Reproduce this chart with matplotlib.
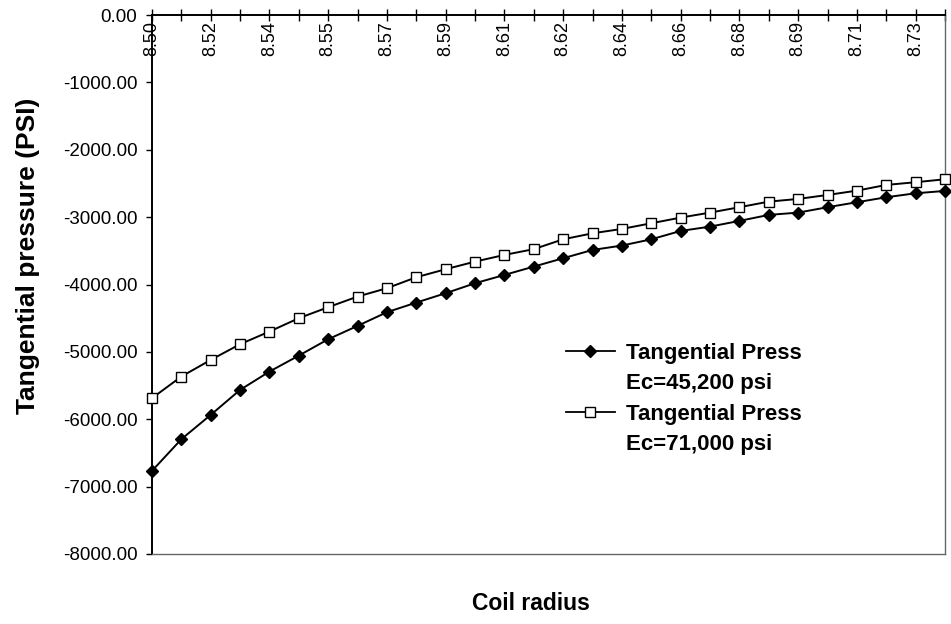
import matplotlib
matplotlib.use('Agg')
import matplotlib.pyplot as plt
from matplotlib.lines import Line2D
from matplotlib.ticker import FormatStrFormatter

plt.rcParams['font.family'] = ['Liberation Sans', 'DejaVu Sans']
plt.rcParams['axes.unicode_minus'] = False

# Coil radius categories (labels shown on every other category)
radius_labels = ['8.50', '', '8.52', '', '8.54', '', '8.55', '', '8.57', '', '8.59', '',
                 '8.61', '', '8.62', '', '8.64', '', '8.66', '', '8.68', '', '8.69', '',
                 '8.71', '', '8.73', '']
# Tangential pressure (PSI)
press_45200 = [-6766, -6296, -5935, -5564, -5292, -5055, -4812, -4614, -4411, -4268,
               -4129, -3981, -3858, -3734, -3610, -3487, -3422, -3329, -3205, -3141,
               -3056, -2967, -2933, -2853, -2779, -2705, -2646, -2611]
press_71000 = [-5687, -5366, -5119, -4886, -4698, -4500, -4337, -4179, -4055, -3892,
               -3773, -3660, -3561, -3475, -3329, -3240, -3175, -3091, -3007, -2933,
               -2853, -2770, -2730, -2671, -2607, -2522, -2482, -2438]
y_ticks = [0, -1000, -2000, -3000, -4000, -5000, -6000, -7000, -8000]
series_labels = ['Tangential Press', 'Ec=45,200 psi', 'Tangential Press', 'Ec=71,000 psi']

W, H = 951, 624
fig = plt.figure(figsize=(W / 100, H / 100), dpi=100)
ax = fig.add_axes([152 / W, 1 - 554 / H, (945 - 152) / W, (554 - 15) / H])

x = list(range(len(radius_labels)))
ax.plot(x, press_45200, color='black', lw=1.4, marker='D', ms=6.5,
        mfc='black', mec='black', clip_on=False, zorder=3)
ax.plot(x, press_71000, color='black', lw=1.4, marker='s', ms=7,
        mfc='white', mec='black', mew=1.0, clip_on=False, zorder=3)

ax.set_xlim(0, len(radius_labels) - 1)
ax.set_ylim(-8000, 0)

# x axis at the top (value 0), ticks crossing, labels below the line
ax.xaxis.tick_top()
ax.set_xticks(x)
ax.set_xticklabels(radius_labels)
ax.tick_params(axis='x', direction='inout', length=8.5, width=1.0, color='black',
               labelsize=13, labelrotation=90, pad=-8.5)
for lbl in ax.get_xticklabels():
    lbl.set_va('top')

ax.set_yticks(y_ticks)
ax.yaxis.set_major_formatter(FormatStrFormatter('%.2f'))
ax.tick_params(axis='y', direction='out', length=4.5, width=1.0, labelsize=13.5, pad=6)

for side in ['top', 'left']:
    ax.spines[side].set_color('black')
    ax.spines[side].set_linewidth(1.4)
for side in ['right', 'bottom']:
    ax.spines[side].set_color('#666666')
    ax.spines[side].set_linestyle((0, (1, 1)))
    ax.spines[side].set_linewidth(1.0)

fig.text(28 / W, 1 - 256 / H, 'Tangential pressure (PSI)', rotation=90,
         ha='center', va='center', fontsize=19, fontweight='bold')
fig.text(531 / W, 1 - 604 / H, 'Coil radius', ha='center', va='center',
         fontsize=16.5, fontweight='bold')

h1 = Line2D([], [], color='black', lw=1.3, marker='D', ms=6.5, mfc='black', mec='black')
h2 = Line2D([], [], color='black', lw=1.3, marker='s', ms=7, mfc='white', mec='black')
blank = Line2D([], [], color='none', lw=0)
leg = ax.legend([h1, blank, h2, blank], series_labels, loc='upper left',
                bbox_to_anchor=(566 / W, 1 - 343 / H), bbox_transform=fig.transFigure,
                frameon=False, borderpad=0, borderaxespad=0, numpoints=1,
                handlelength=2.2, handletextpad=0.5, labelspacing=0.42,
                prop={'size': 16, 'weight': 'bold'})

fig.savefig('out.png', dpi=100)
